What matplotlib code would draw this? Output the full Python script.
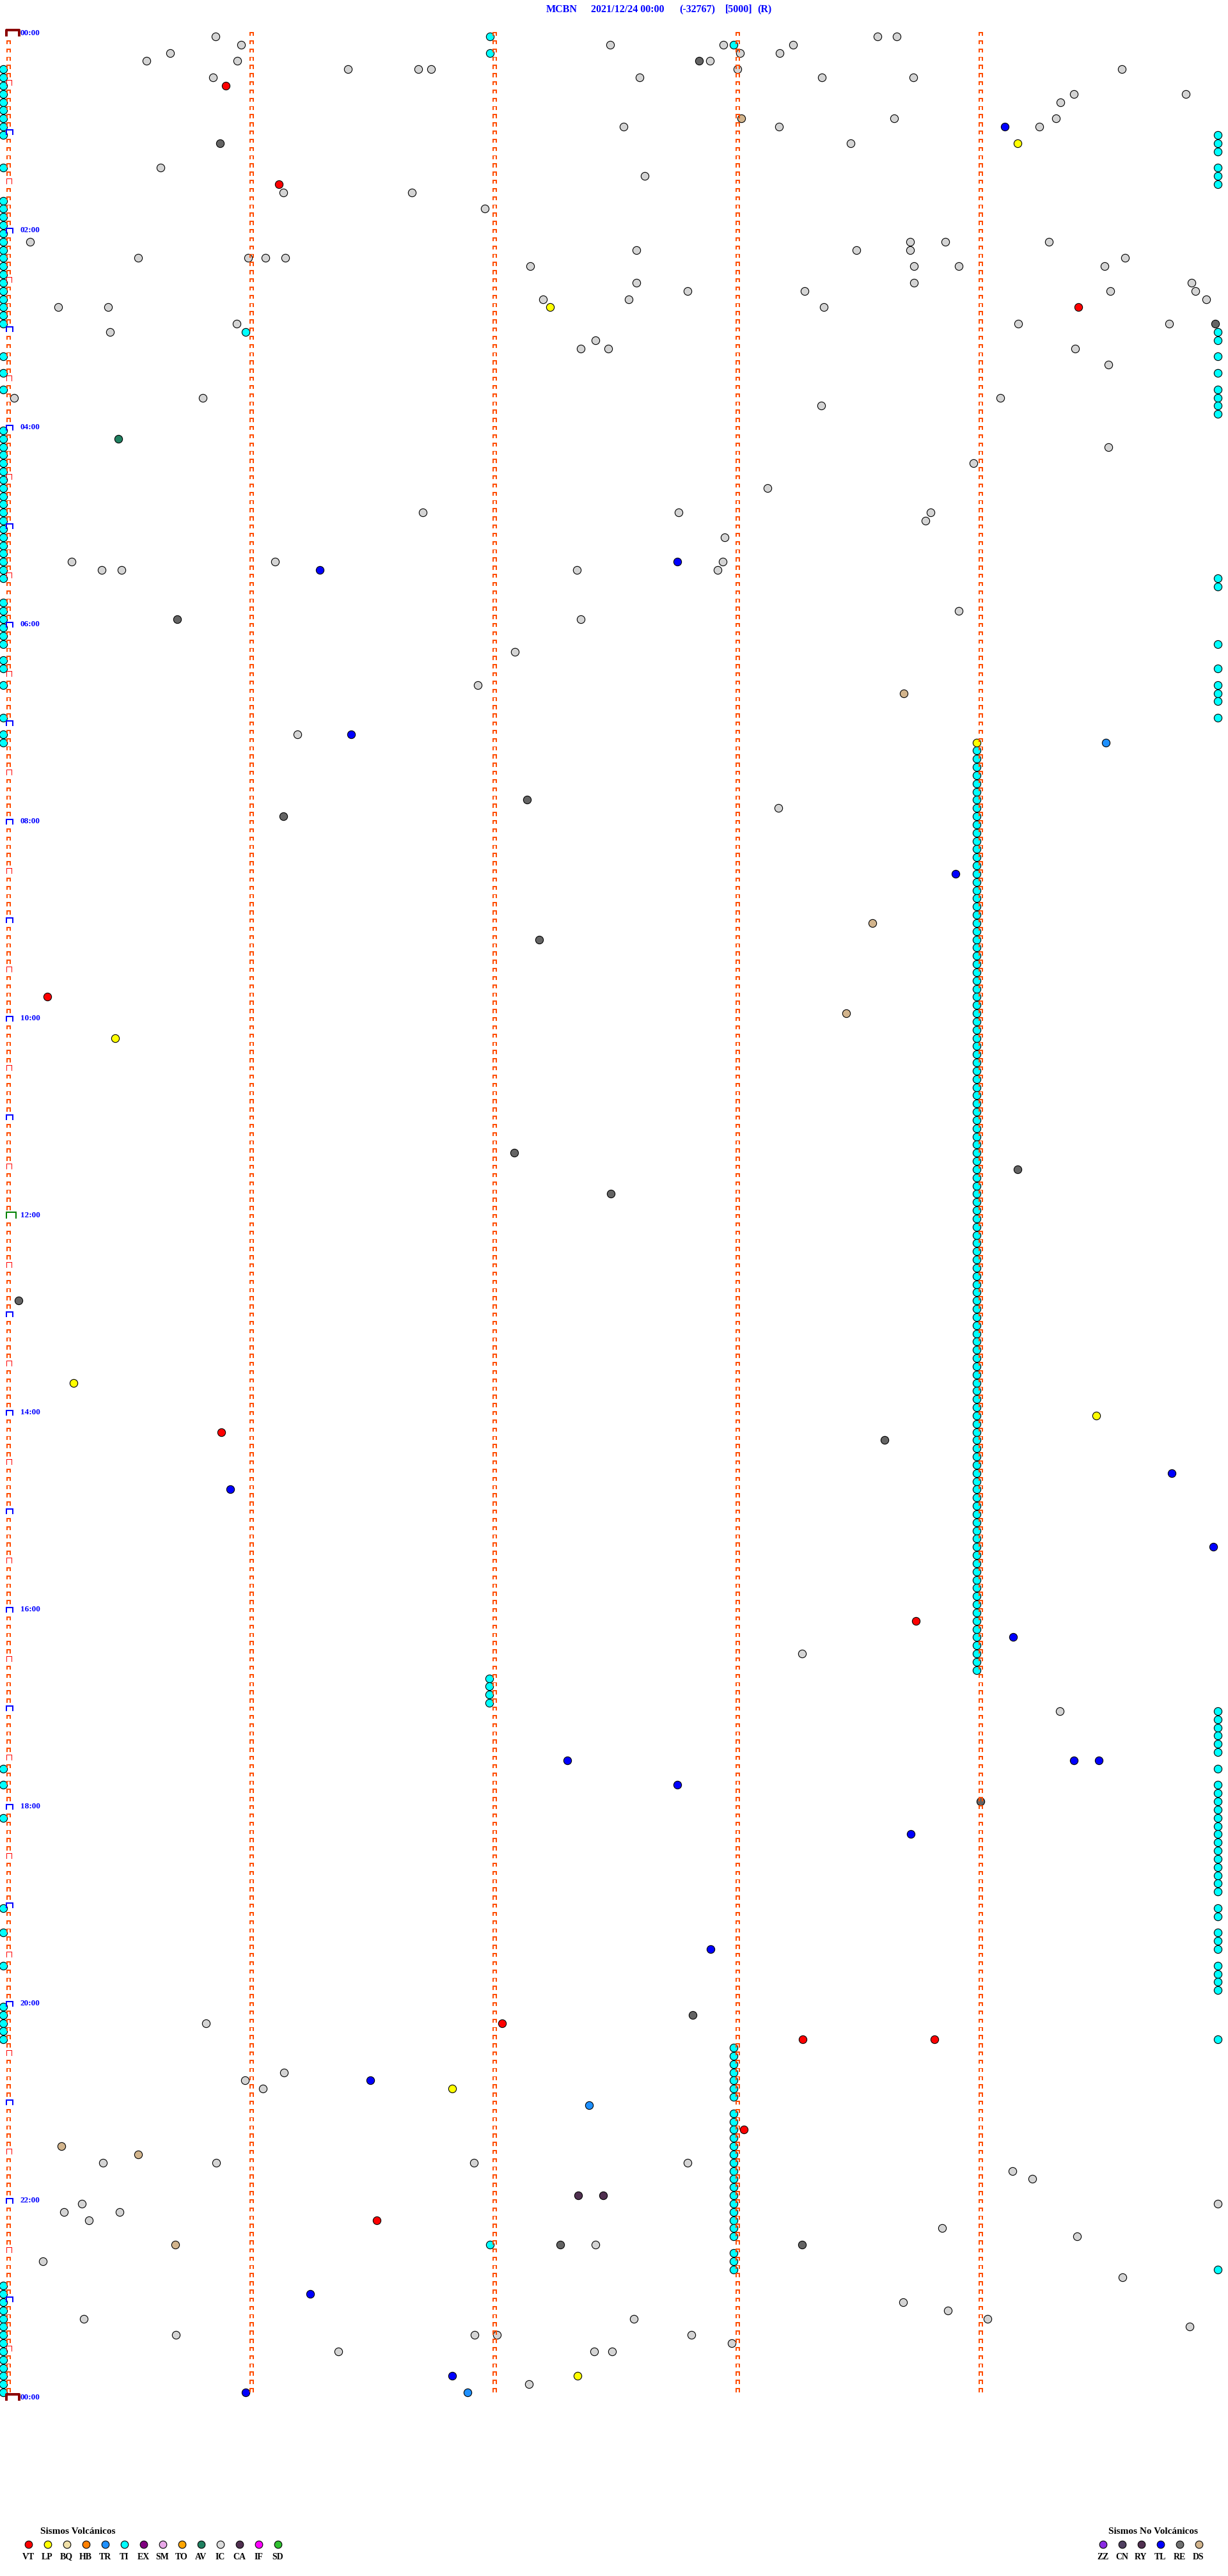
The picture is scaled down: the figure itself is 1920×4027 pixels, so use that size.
import numpy as np
import matplotlib.pyplot as plt

# page geometry (pixels of the original helicorder image)
W, H = 1920, 4027
X0, COL_W = 13, 380      # x of minute 0, px per minute
Y0, ROW_H = 57, 12.833   # y of row 0 centre, px per 5-min row
N_ROWS = 288

# events: (row of 5 minutes, minute inside the row)
ic = [(0, .852), (0, 3.577), (0, 3.655),
      (1, .958), (1, 2.477), (1, 2.942), (1, 3.229),
      (2, .665), (2, 3.010), (2, 3.174),
      (3, .568), (3, .942), (3, 2.887),
      (4, 1.397), (4, 1.687), (4, 1.739), (4, 3.0), (4, 4.581),
      (5, .842), (5, 2.597), (5, 3.348), (5, 3.723),
      (7, 4.384), (7, 4.845), (8, 4.329),
      (10, 3.645), (10, 4.31),
      (11, 2.532), (11, 3.171), (11, 4.242),
      (13, 3.465), (16, .626), (17, 2.619), (19, 1.132), (19, 1.661), (21, 1.961),
      (25, .09), (25, 3.71), (25, 3.855), (25, 4.281),
      (26, 2.584), (26, 3.49), (26, 3.71),
      (27, .535), (27, .987), (27, 1.058), (27, 1.139), (27, 4.594),
      (28, 2.148), (28, 3.726), (28, 3.91), (28, 4.51),
      (30, 2.584), (30, 3.726), (30, 4.868),
      (31, 2.794), (31, 3.277), (31, 4.535), (31, 4.884),
      (32, 2.2), (32, 2.552), (32, 4.929),
      (33, .206), (33, .41), (33, 3.355),
      (35, .939), (35, 4.155), (35, 4.777),
      (36, .419), (37, 2.416), (38, 2.355), (38, 2.468), (38, 4.39), (40, 4.526),
      (44, .023), (44, .8), (44, 4.081), (45, 3.345),
      (50, 4.526), (52, 3.971), (55, 3.123),
      (58, 1.706), (58, 2.758), (58, 3.794), (59, 3.774), (61, 2.948),
      (64, .261), (64, 1.097), (64, 2.939),
      (65, .384), (65, .465), (65, 2.339), (65, 2.919),
      (70, 3.91), (71, 2.355), (75, 2.084), (79, 1.932), (85, 1.19), (94, 3.168),
      (197, 3.265), (204, 4.326),
      (242, .813), (248, 1.135), (249, .974), (250, 1.048),
      (259, .39), (259, .855), (259, 1.916), (259, 2.794),
      (260, 4.132), (261, 4.213), (264, .303), (264, 4.977), (265, .229), (265, .458),
      (266, .332), (267, 3.842), (268, 4.397), (269, 2.416), (271, .142), (273, 4.584),
      (276, 3.681), (277, 3.865), (278, .31), (278, 2.574), (278, 4.029), (279, 4.861),
      (280, .69), (280, 1.919), (280, 2.01), (280, 2.81), (281, 2.977),
      (282, 1.358), (282, 2.41), (282, 2.484), (286, 2.142)]

re = [(3, 2.842), (13, .871), (35, 4.965), (71, .694), (93, 2.135), (95, 1.132),
      (110, 2.184), (136, 2.081), (138, 4.152), (141, 2.48), (154, .042), (171, 3.606),
      (215, 4.0), (241, 2.816), (269, 2.271), (269, 3.265)]
vt = [(6, .894), (18, 1.113), (33, 4.403), (117, .161), (170, .877), (193, 3.735),
      (242, 2.032), (244, 3.268), (244, 3.81), (255, 3.026), (266, 1.516)]
lp = [(13, 4.152), (33, 2.229), (86, 3.984), (122, .439), (164, .268), (168, 4.477),
      (250, 1.826), (285, 2.342)]
tl = [(11, 4.1), (64, 2.752), (65, 1.281), (85, 1.41), (102, 3.897), (175, 4.787),
      (177, .913), (184, 4.958), (195, 4.135), (210, 2.3), (210, 4.384), (210, 4.487),
      (213, 2.752), (219, 3.713), (233, 2.89), (249, 1.49), (275, 1.242), (285, 1.826),
      (287, .977)]
tr = [(86, 4.516), (252, 2.39), (287, 1.89)]
ds = [(10, 3.016), (80, 3.684), (108, 3.555), (119, 3.448), (257, .219), (258, .535),
      (269, .687)]
av = [(49, .452)]
ca = [(263, 2.345), (263, 2.448)]

# tremor (TI) runs
ti_left_rows = [*range(4, 13), 16, *range(20, 36), 39, 41, 43, *range(48, 67),
                *range(69, 75), 76, 77, 79, 83, 85, 86, 211, 213, 217, 228, 231, 235,
                *range(240, 245), *range(274, 288)]
ti_right_rows = [12, 13, 14, 16, 17, 18, 36, 37, 39, 41, *range(43, 47), 66, 67, 74, 77,
                 79, 80, 81, 83, *range(204, 210), 211, *range(213, 227), 228, 229,
                 *range(231, 234), *range(235, 239), 244, 272]
ti_col4_rows = list(range(87, 200))
ti_col3_rows = [*range(245, 252), *range(253, 269), *range(270, 273)]
ti_col2_rows = list(range(200, 204))
ti_other = [(0, 1.981), (2, 1.981), (1, 2.984), (36, .977), (269, 1.981)]

ti = ([(r, -0.021) for r in ti_left_rows] + [(r, 4.977) for r in ti_right_rows] +
      [(r, 3.984) for r in ti_col4_rows] + [(r, 2.984) for r in ti_col3_rows] +
      [(r, 1.978) for r in ti_col2_rows] + ti_other)

volc_labels = ['VT', 'LP', 'BQ', 'HB', 'TR', 'TI', 'EX', 'SM', 'TO', 'AV', 'IC', 'CA', 'IF', 'SD']
volc_colors = ['#ff0000', '#ffff00', '#f0e0a8', '#ff8000', '#1e90ff', '#00ffff', '#800080',
               '#e8a8e8', '#ffa500', '#208060', '#dcdcdc', '#503050', '#ff00ff', '#30c030']
novolc_labels = ['ZZ', 'CN', 'RY', 'TL', 'RE', 'DS']
novolc_colors = ['#8a2be2', '#504060', '#503050', '#0000ff', '#707070', '#d2b48c']
col = dict(zip(volc_labels + novolc_labels, volc_colors + novolc_colors))
col['RE'] = '#646464'
col['IC'] = '#d4d4d4'

SERIF = ['Liberation Serif', 'DejaVu Serif']

fig = plt.figure(figsize=(W / 100, H / 100), dpi=100)
ax = fig.add_axes([0, 0, 1, 1])
ax.set_xlim(-X0 / COL_W, (W - X0) / COL_W)
ax.set_ylim((H - Y0) / ROW_H, -Y0 / ROW_H)
ax.axis('off')

px = 1 / COL_W   # one pixel in x data units
py = 1 / ROW_H   # one pixel in y data units


def brackets(rows, cols, x_off, top_off, w, h, color, lw):
    xs, ys = [], []
    for r in rows:
        for c in cols:
            x0 = c + x_off * px
            y0 = r + top_off * py
            xs += [x0, x0, x0 + w * px, x0 + w * px, np.nan]
            ys += [y0 + h * py, y0, y0, y0 + h * py, np.nan]
    ax.plot(xs, ys, color=color, lw=lw, solid_capstyle='butt', zorder=4, antialiased=False)


rows = np.arange(N_ROWS)
hour_rows = rows[rows % 12 == 0]
half_rows = rows[rows % 12 == 6]
plain_rows = rows[rows % 6 != 0]

# minute ticks
brackets(rows, [1, 2, 3, 4], -2, -6, 5, 5, '#ff4d00', 0.6)
brackets(plain_rows, [0], -2, -6, 5, 5, '#ff4d00', 0.6)
brackets(half_rows, [0], -3, -9, 8, 8, '#ff0000', 0.7)
brackets([r for r in hour_rows if r not in (0, 144)], [0], -3, -8, 10, 8, '#0000ff', 1.4)
brackets([144], [0], -3, -10, 15, 10, '#008000', 1.4)
brackets([0, 288], [0], -3, -9.5, 20, 10, '#8b0000', 1.5)

# hour labels
for r in range(0, N_ROWS + 1, 24):
    ax.text(-X0 / COL_W + 32 * px, r - 5 * py, '%02d:00' % ((r // 12) % 24),
            color='#0000ff', fontsize=9.5, fontweight='bold', family=SERIF,
            ha='left', va='center')

# events
for name, ev in [('IC', ic), ('RE', re), ('DS', ds), ('AV', av), ('CA', ca), ('TR', tr),
                 ('TL', tl), ('VT', vt), ('TI', ti), ('LP', lp)]:
    r, m = zip(*ev)
    ax.scatter(m, r, s=78, c=col[name], edgecolors='black', linewidths=0.8, zorder=3)

# title
title_parts = [('MCBN', 854), ('2021/12/24 00:00', 924), ('(-32767)', 1062),
               ('[5000]', 1134), ('(R)', 1184)]
for txt, xp in title_parts:
    fig.text(xp / W, 1 - 15 / H, txt, color='#0000ff', fontsize=11.5, fontweight='bold',
             family=SERIF, ha='left', va='center')

# legends (pixel axes)
lax = fig.add_axes([0, 0, 1, 1])
lax.set_xlim(0, W)
lax.set_ylim(H, 0)
lax.axis('off')

vx = 45 + 30 * np.arange(len(volc_labels))
lax.scatter(vx, np.full(len(vx), 3978), s=70, c=volc_colors, edgecolors='black', linewidths=0.8)
for x, lab in zip(vx, volc_labels):
    lax.text(x - 1, 3997, lab, fontsize=10, fontweight='bold', family=SERIF,
             ha='center', va='center')
lax.text(63, 3957, 'Sismos Volcánicos', fontsize=11, fontweight='bold', family=SERIF,
         ha='left', va='center')

nx = 1725 + 30 * np.arange(len(novolc_labels))
lax.scatter(nx, np.full(len(nx), 3978), s=70, c=novolc_colors, edgecolors='black', linewidths=0.8)
for x, lab in zip(nx, novolc_labels):
    lax.text(x - 1, 3997, lab, fontsize=10, fontweight='bold', family=SERIF,
             ha='center', va='center')
lax.text(1733, 3957, 'Sismos No Volcánicos', fontsize=11, fontweight='bold', family=SERIF,
         ha='left', va='center')

fig.savefig('out.png', dpi=100)
